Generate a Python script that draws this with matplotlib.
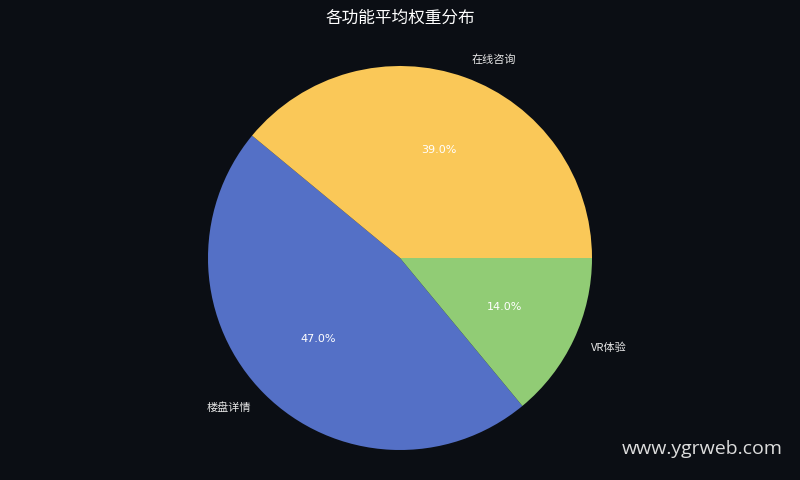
import matplotlib
matplotlib.use("Agg")
import matplotlib.pyplot as plt

plt.rcParams['font.family'] = ['Noto Sans CJK SC', 'DejaVu Sans']

labels = ['楼盘详情', 'VR体验', '在线咨询']
weights = [47, 14, 39]
colors = ['#5470c6', '#91cc75', '#fac858']

bg = '#0b0e14'
fig = plt.figure(figsize=(8, 4.8), dpi=100, facecolor=bg)
ax = fig.add_axes([0.26, 0.0625, 0.48, 0.8])
ax.set_facecolor(bg)

wedges, texts, autotexts = ax.pie(
    weights, labels=labels, colors=colors, autopct='%1.1f%%',
    startangle=140.4, counterclock=True,
    textprops={'color': '#e6e6e6', 'fontsize': 8},
)
for t in autotexts:
    t.set_color('white')
    t.set_fontfamily('DejaVu Sans')
    t.set_fontsize(8)

ax.set_xlim(-1, 1)
ax.set_ylim(-1, 1)
ax.set_aspect('equal')
ax.axis('off')

fig.text(0.5, 0.962, '各功能平均权重分布', ha='center', va='center',
         color='white', fontsize=12)
fig.text(0.978, 0.065, 'www.ygrweb.com', ha='right', va='center',
         color='#dddddd', fontsize=14, family='Open Sans')

fig.savefig('out.png', dpi=100, facecolor=bg)
